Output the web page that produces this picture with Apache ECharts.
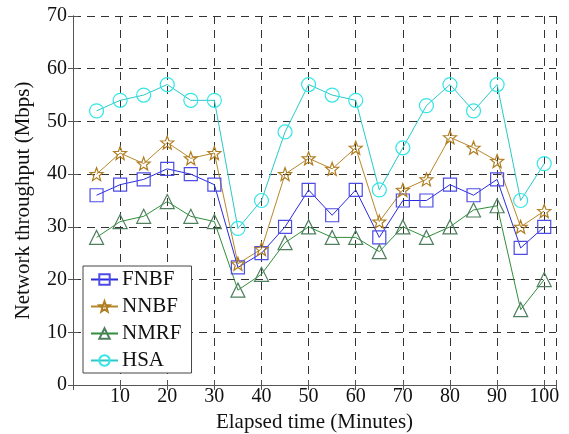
<!DOCTYPE html>
<html>
<head>
<meta charset="utf-8">
<script src="https://cdn.jsdelivr.net/npm/echarts@6/dist/echarts.min.js"></script>
<style>
  html, body { margin: 0; padding: 0; background: #fff; }
  #chart { width: 569px; height: 434px; }
</style>
</head>
<body>
<div id="chart"></div>
<script>
// Elapsed time samples (minutes)
const minutes = [5, 10, 15, 20, 25, 30, 35, 40, 45, 50, 55, 60, 65, 70, 75, 80, 85, 90, 95, 100];

// Network throughput per method (Mbps)
const fnbf = [36, 38, 39, 41, 40, 38, 22.3, 25, 30, 37, 32.2, 37, 28, 35, 35, 38, 36, 39, 26, 30];
const nnbf = [40, 44, 42, 46, 43, 44, 23, 25.8, 40, 43, 41, 45, 31, 37, 39, 47, 45, 42.5, 30, 33];
const nmrf = [28, 31, 32, 34.8, 32, 31, 18, 21, 27, 30, 28, 28, 25.3, 30, 28, 30, 33.2, 34, 14.3, 20];
const hsa  = [52, 54, 55, 57, 54, 54, 29.7, 35, 48, 57, 55, 54, 37, 45, 53, 57, 52, 57, 35, 42];

const seriesNames = ['FNBF', 'NNBF', 'NMRF', 'HSA'];
const yTicks = [0, 10, 20, 30, 40, 50, 60, 70];

// Five-pointed star outline used as a marker
function starPath() {
  const pts = [];
  for (let i = 0; i < 10; i++) {
    const r = i % 2 === 0 ? 10 : 4.2;
    const a = -Math.PI / 2 + i * Math.PI / 5;
    pts.push((r * Math.cos(a)).toFixed(2) + ' ' + (r * Math.sin(a)).toFixed(2));
  }
  return 'path://M' + pts.join(' L') + ' Z';
}

const font = 'Liberation Serif, Times New Roman, serif';

function makeSeries(name, values, symbol, size, lineColor, markColor) {
  return {
    name: name,
    type: 'line',
    data: minutes.map((m, i) => [m, values[i]]),
    symbol: symbol,
    symbolSize: size,
    showAllSymbol: true,
    lineStyle: { color: lineColor, width: 1 },
    itemStyle: { color: 'rgba(255,255,255,0)', borderColor: markColor, borderWidth: 1.2 },
    emphasis: { disabled: true },
    z: 3
  };
}

const chart = echarts.init(document.getElementById('chart'), null, { renderer: 'canvas' });

const gridLine = { show: true, lineStyle: { color: '#333', type: [8, 6], width: 1 } };
const axisLine = { show: true, lineStyle: { color: '#555', width: 1 } };

chart.setOption({
  animation: false,
  backgroundColor: '#fff',
  textStyle: { fontFamily: font },
  grid: { left: 73, top: 16, right: 13, bottom: 49, containLabel: false, outerBoundsMode: 'none' },
  legend: {
    data: seriesNames,
    orient: 'vertical',
    left: 83,
    top: 266,
    padding: [3, 10, 2, 7],
    itemWidth: 27,
    itemHeight: 13,
    itemGap: 6,
    backgroundColor: '#fff',
    borderColor: '#444',
    borderWidth: 1,
    borderRadius: 0,
    textStyle: { fontFamily: font, fontSize: 21, color: '#111', lineHeight: 21, padding: [0, 0, 0, -1] }
  },
  xAxis: [{
    type: 'value',
    min: 0,
    max: 102.5,
    interval: 10,
    name: 'Elapsed time (Minutes)',
    nameLocation: 'middle',
    nameGap: 22,
    nameTextStyle: { fontFamily: font, fontSize: 21, color: '#111' },
    axisLine: axisLine,
    axisTick: { show: true, inside: true, length: 5, lineStyle: { color: '#555' } },
    axisLabel: {
      fontFamily: font, fontSize: 20, color: '#111', margin: 2,
      formatter: v => (v > 0 && v % 10 === 0) ? String(v) : ''
    },
    splitLine: gridLine
  }, {
    type: 'value',
    position: 'top',
    min: 0,
    max: 102.5,
    interval: 10,
    axisLine: axisLine,
    axisTick: { show: true, inside: true, length: 5, lineStyle: { color: '#555' } },
    axisLabel: { show: false },
    splitLine: { show: false }
  }],
  yAxis: [{
    type: 'value',
    min: yTicks[0],
    max: yTicks[yTicks.length - 1],
    interval: 10,
    name: 'Network throughput (Mbps)',
    nameLocation: 'middle',
    nameGap: 39,
    nameTextStyle: { fontFamily: font, fontSize: 21, color: '#111' },
    axisLine: axisLine,
    axisTick: { show: true, inside: true, length: 5, lineStyle: { color: '#555' } },
    axisLabel: { fontFamily: font, fontSize: 20, color: '#111', margin: 6 },
    splitLine: gridLine
  }, {
    type: 'value',
    position: 'right',
    min: yTicks[0],
    max: yTicks[yTicks.length - 1],
    interval: 10,
    axisLine: axisLine,
    axisTick: { show: true, inside: true, length: 5, lineStyle: { color: '#555' } },
    axisLabel: { show: false },
    splitLine: { show: false }
  }],
  series: [
    makeSeries('FNBF', fnbf, 'rect', 13, '#2a2ae0', '#4d4de6'),
    makeSeries('NNBF', nnbf, starPath(), 13, '#b8862b', '#b07e22'),
    makeSeries('NMRF', nmrf, 'triangle', 14, '#2f8f3a', '#4f7f5f'),
    makeSeries('HSA', hsa, 'circle', 14, '#2ac8c8', '#33e6e6')
  ]
});
</script>
</body>
</html>
